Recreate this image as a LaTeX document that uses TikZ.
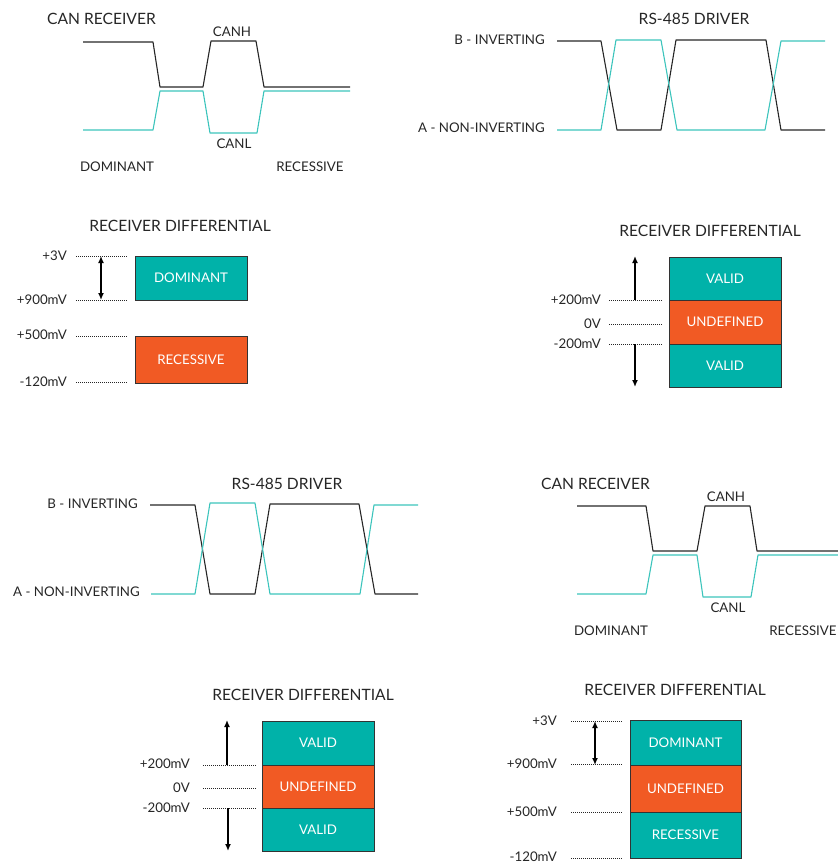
\documentclass[tikz,border=0pt]{standalone}
\usepackage{fontspec}
\setmainfont{Lato}
\usetikzlibrary{arrows.meta}

\definecolor{tealbox}{HTML}{00B2A9}
\definecolor{tealline}{HTML}{3CC4BC}
\definecolor{orangebox}{HTML}{F15A24}
\definecolor{inkgray}{HTML}{262626}

\tikzset{
	ttl/.style={font=\fontsize{15.6}{15.6}\selectfont, text=inkgray, inner sep=0pt},
	lbl/.style={font=\fontsize{13.3}{13.3}\selectfont, text=inkgray, inner sep=0pt},
	hwire/.style={line width=1.1pt, black!85, line join=round},
	lwire/.style={line width=1.1pt, tealline, line join=round},
	lvl/.style={line width=0.6pt, dash pattern=on 1pt off 1pt, black!85},
	zone/.style={draw=black!80, line width=0.8pt, inner sep=0pt, text=white,
		font=\fontsize{13.3}{13.3}\selectfont},
	validzone/.style={zone, fill=tealbox},
	undefzone/.style={zone, fill=orangebox},
	rng/.style={line width=1.5pt, -{Latex[length=7pt,width=6pt]}},
	rngboth/.style={line width=1.5pt, {Latex[length=7pt,width=6pt]}-{Latex[length=7pt,width=6pt]}},
}

\begin{document}
\begin{tikzpicture}[x=1pt, y=-1pt]
	\useasboundingbox (0,0) rectangle (838,863);

	% CAN receiver, top left
	\node[ttl, anchor=west] at (47,19) (canttl) {CAN RECEIVER};
	\draw[hwire] (83,42) -- (153,42) -- (160,87) -- (203,87) -- (211,41) -- (256,41) -- (264,87) -- (350,87);
	\draw[lwire] (83,130) -- (153,130) -- (160,91) -- (203,91) -- (210,133) -- (257,133) -- (264,91) -- (350,91);
	\node[lbl] at (232,32) (canh) {CANH};
	\node[lbl] at (234,144) (canl) {CANL};
	\node[lbl] at (117,167) (dom) {DOMINANT};
	\node[lbl] at (310,167) (rec) {RECESSIVE};

	% RS-485 driver, top right
	\node[ttl] at (694,19) (rsttl) {RS-485 DRIVER};
	\node[lbl, anchor=east] at (545,40) (binv) {B - INVERTING};
	\node[lbl, anchor=east] at (545,128) (anoninv) {A - NON-INVERTING};
	\draw[hwire] (557,41) -- (601,41) -- (617,130) -- (661,130) -- (676,40) -- (766,40) -- (781,130) -- (825,130);
	\draw[lwire] (557,130) -- (601,130) -- (616,40) -- (661,40) -- (677,130) -- (765,130) -- (781,41) -- (825,41);

	% CAN receiver differential, middle left
	\node[ttl] at (180,226) (candiffttl) {RECEIVER DIFFERENTIAL};
	\node[lbl, anchor=east] at (67,256) (lthree) {+3V};
	\node[lbl, anchor=east] at (67,300) (lnine) {+900mV};
	\node[lbl, anchor=east] at (67,335) (lfive) {+500mV};
	\node[lbl, anchor=east] at (67,382) (lmone) {-120mV};
	\draw[lvl] (76,256) -- (128,256);
	\draw[lvl] (76,300) -- (128,300);
	\draw[lvl] (76,336) -- (128,336);
	\draw[lvl] (76,382) -- (128,382);
	\coordinate (domtop) at (101,256);
	\coordinate (dombot) at (101,300);
	\draw[rngboth] (domtop) -- (dombot);
	\node[validzone, minimum width=112pt, minimum height=44pt] at (191,278) (dombox) {DOMINANT};
	\node[undefzone, minimum width=112pt, minimum height=47pt] at (191,359.5) (recbox) {RECESSIVE};

	% RS-485 receiver differential, middle right
	\node[ttl] at (710,231) (rsdiffttl) {RECEIVER DIFFERENTIAL};
	\node[lbl, anchor=east] at (601,300) (rptwo) {+200mV};
	\node[lbl, anchor=east] at (601,324) (rzero) {0V};
	\node[lbl, anchor=east] at (601,344) (rmtwo) {-200mV};
	\draw[lvl] (609,300) -- (662,300);
	\draw[lvl] (609,324) -- (662,324);
	\draw[lvl] (609,344) -- (662,344);
	\coordinate (rupfrom) at (635,300);
	\coordinate (rupto) at (635,256);
	\coordinate (rdnfrom) at (635,344);
	\coordinate (rdnto) at (635,387);
	\draw[rng] (rupfrom) -- (rupto);
	\draw[rng] (rdnfrom) -- (rdnto);
	\node[validzone, minimum width=112pt, minimum height=43pt] at (725,278.5) (rvalidhi) {VALID};
	\node[undefzone, minimum width=112pt, minimum height=44pt] at (725,322) (rundef) {UNDEFINED};
	\node[validzone, minimum width=112pt, minimum height=43pt] at (725,365.5) (rvalidlo) {VALID};

	% RS-485 driver, lower left
	\node[ttl] at (287,484) (rsttlb) {RS-485 DRIVER};
	\node[lbl, anchor=east] at (138,504) (binvb) {B - INVERTING};
	\node[lbl, anchor=east] at (140,592) (anoninvb) {A - NON-INVERTING};
	\draw[hwire] (150,505) -- (195,505) -- (210,594) -- (255,594) -- (270,504) -- (359,504) -- (375,594) -- (418,594);
	\draw[lwire] (151,594) -- (195,594) -- (210,503) -- (255,503) -- (270,594) -- (360,594) -- (374,505) -- (418,505);

	% CAN receiver, lower right
	\node[ttl, anchor=west] at (541,483.5) (canttlb) {CAN RECEIVER};
	\draw[hwire] (577,506) -- (646,506) -- (653,551) -- (697,551) -- (705,506) -- (750,506) -- (757,551) -- (838,551);
	\draw[lwire] (577,594) -- (646,594) -- (653,555) -- (697,555) -- (703,597) -- (751,597) -- (758,555) -- (838,555);
	\node[lbl] at (726,496.5) (canhb) {CANH};
	\node[lbl] at (728,608) (canlb) {CANL};
	\node[lbl] at (611,631) (domb) {DOMINANT};
	\node[lbl] at (803,631) (recb) {RECESSIVE};

	% RS-485 receiver differential, bottom left
	\node[ttl] at (303,695) (rsdiffttlb) {RECEIVER DIFFERENTIAL};
	\node[lbl, anchor=east] at (190,764) (bptwo) {+200mV};
	\node[lbl, anchor=east] at (190,788) (bzero) {0V};
	\node[lbl, anchor=east] at (190,807.5) (bmtwo) {-200mV};
	\draw[lvl] (203,765) -- (256,765);
	\draw[lvl] (203,788) -- (256,788);
	\draw[lvl] (203,808) -- (256,808);
	\coordinate (bupfrom) at (227,765);
	\coordinate (bupto) at (227,720);
	\coordinate (bdnfrom) at (228,808);
	\coordinate (bdnto) at (228,851);
	\draw[rng] (bupfrom) -- (bupto);
	\draw[rng] (bdnfrom) -- (bdnto);
	\node[validzone, minimum width=112pt, minimum height=44pt] at (318,743) (bvalidhi) {VALID};
	\node[undefzone, minimum width=112pt, minimum height=43pt] at (318,786.5) (bundef) {UNDEFINED};
	\node[validzone, minimum width=112pt, minimum height=43pt] at (318,829.5) (bvalidlo) {VALID};

	% CAN receiver differential, bottom right
	\node[ttl] at (675,690) (candiffttlb) {RECEIVER DIFFERENTIAL};
	\node[lbl, anchor=east] at (557,721) (cthree) {+3V};
	\node[lbl, anchor=east] at (557,764) (cnine) {+900mV};
	\node[lbl, anchor=east] at (557,811.5) (cfive) {+500mV};
	\node[lbl, anchor=east] at (557,856.5) (cmone) {-120mV};
	\draw[lvl] (571,721) -- (623,721);
	\draw[lvl] (571,764.5) -- (623,764.5);
	\draw[lvl] (571,812.5) -- (623,812.5);
	\draw[lvl] (571,858.5) -- (623,858.5);
	\coordinate (ctop) at (595,721);
	\coordinate (cbot) at (595,765);
	\draw[rngboth] (ctop) -- (cbot);
	\node[validzone, minimum width=111pt, minimum height=45pt] at (685.5,742.5) (cdom) {DOMINANT};
	\node[undefzone, minimum width=111pt, minimum height=47pt] at (685.5,788.5) (cundef) {UNDEFINED};
	\node[validzone, minimum width=111pt, minimum height=46pt] at (685.5,835) (crec) {RECESSIVE};
\end{tikzpicture}
\end{document}
